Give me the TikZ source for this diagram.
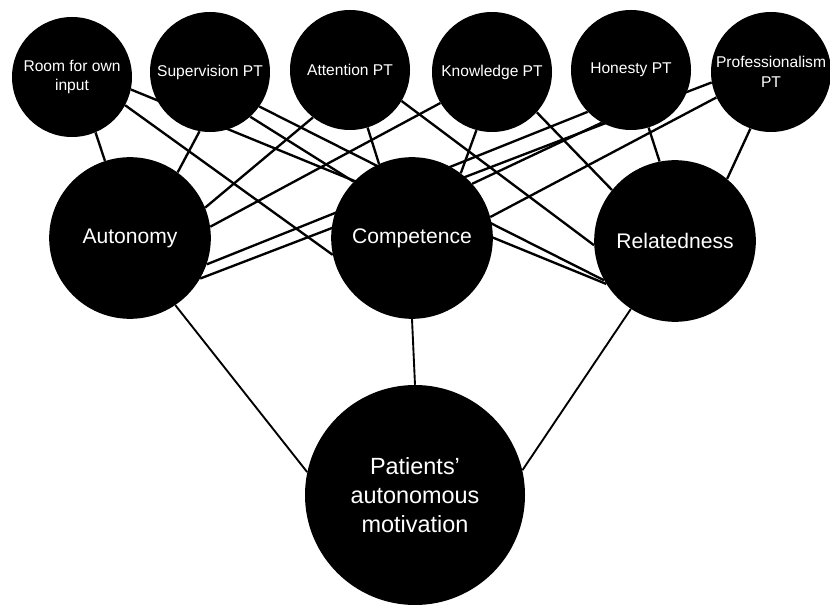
\documentclass[tikz,border=0pt]{standalone}
\usepackage{fontspec}
\setmainfont{Liberation Sans}
\usetikzlibrary{backgrounds}

\begin{document}
\begin{tikzpicture}[x=0.3mm, y=-0.3mm,
        dot/.style={circle, fill=black, text=white, inner sep=0pt, align=center},
        small/.style={dot, minimum size=36mm, font=\fontsize{13.3}{16.5}\selectfont},
        mid/.style={dot, minimum size=48.5mm, font=\fontsize{18}{22}\selectfont},
        big/.style={dot, minimum size=66mm, font=\fontsize{20}{24.5}\selectfont},
        link/.style={line width=2pt},
        down/.style={line width=1.6pt}]
    \useasboundingbox (0,0) rectangle (830,606);

    % top row
    \node[small] (room) at (72,77) {Room for own\\input};
    \node[small] (sup) at (210,72) {Supervision PT};
    \node[small] (att) at (350,70) {Attention PT};
    \node[small] (know) at (492,72) {Knowledge PT};
    \node[small] (hon) at (631,70) {Honesty PT};
    \node[small] (prof) at (771,72) {Professionalism\\PT};

    % needs
    \node[mid] (aut) at (130,238) {Autonomy};
    \node[mid] (comp) at (412,238) {Competence};
    \node[mid] (rel) at (675,241) {Relatedness};

    \node[big] (mot) at (415,495) {Patients’\\autonomous\\motivation};

    \begin{scope}[on background layer]
        \draw[link] (room.-67) -- (aut.108);
        \draw[link] (room.-28) -- (comp.-168);
        \draw[link] (room.-12) -- (rel.-148);

        \draw[link] (sup.-100) -- (aut.54);
        \draw[link] (sup.-48) -- (comp.136);
        \draw[link] (sup.-35) -- (rel.-151);

        \draw[link] (att.-128) -- (aut.22);
        \draw[link] (att.-73) -- (comp.114);
        \draw[link] (att.-31) -- (rel.-177);

        \draw[link] (know.-149) -- (aut.8);
        \draw[link] (know.-105) -- (comp.53);
        \draw[link] (know.-42) -- (rel.141);

        \draw[link] (hon.-136) -- (aut.-19);
        \draw[link] (hon.-119) -- (comp.42);
        \draw[link] (hon.-73) -- (rel.101);

        \draw[link] (prof.-170) -- (aut.-30);
        \draw[link] (prof.-155) -- (comp.15);
        \draw[link] (prof.-110) -- (rel.50);

        \draw[down] (aut.-56) -- (mot.168);
        \draw[down] (comp.-90) -- (mot.90);
        \draw[down] (rel.-123) -- (mot.13);
    \end{scope}
\end{tikzpicture}
\end{document}
